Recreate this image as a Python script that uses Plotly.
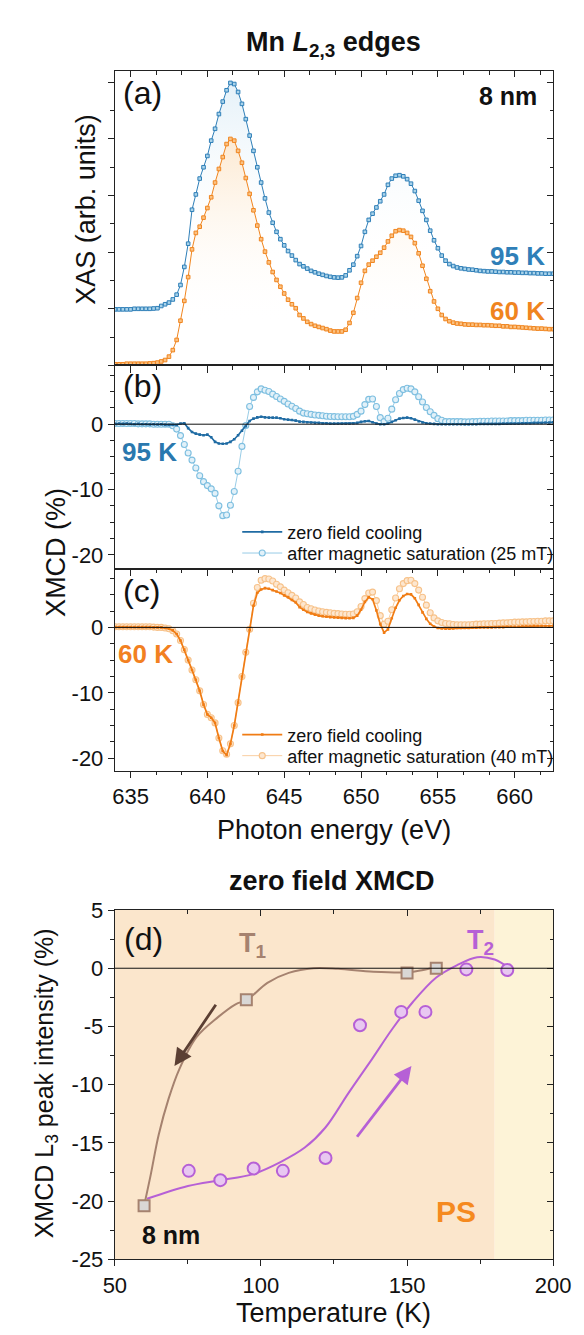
import plotly.graph_objects as go

W, H = 584, 1335
FONT = "Liberation Sans, Arial, sans-serif"

# ---------------- data ----------------
energy = [round(634.0 + 0.25 * i, 2) for i in range(115)]  # photon energy grid (eV)

xas_60K = [
    0.02, 0.02, 0.02, 0.03,
    0.03, 0.03, 0.03, 0.03,
    0.03, 0.035, 0.04, 0.05,
    0.07, 0.095, 0.155, 0.27,
    0.45, 0.79, 1.14, 1.56,
    2.05, 2.34, 2.45, 2.61,
    2.78, 2.97, 3.23, 3.47,
    3.68, 3.91, 4.00, 3.97,
    3.79, 3.58, 3.31, 3.03,
    2.74, 2.47, 2.23, 2.01,
    1.82, 1.65, 1.51, 1.39,
    1.27, 1.16, 1.08, 1.01,
    0.89, 0.83, 0.77, 0.73,
    0.70, 0.68, 0.66, 0.64,
    0.615, 0.60, 0.60, 0.60,
    0.63, 0.75, 0.93, 1.19,
    1.46, 1.67, 1.78, 1.85,
    1.92, 1.99, 2.08, 2.19,
    2.29, 2.37, 2.39, 2.38,
    2.34, 2.27, 2.16, 1.98,
    1.76, 1.53, 1.31, 1.13,
    1.00, 0.89, 0.82, 0.78,
    0.755, 0.74, 0.735, 0.725,
    0.72, 0.72, 0.715, 0.715,
    0.71, 0.71, 0.705, 0.70,
    0.70, 0.69, 0.69, 0.68,
    0.68, 0.675, 0.67, 0.665,
    0.66, 0.655, 0.65, 0.65,
    0.645, 0.64, 0.64,
]

xas_95K = [
    0.99, 0.99, 0.99, 0.99,
    0.99, 1.00, 1.00, 1.00,
    1.00, 1.00, 1.005, 1.01,
    1.05, 1.08, 1.11, 1.165,
    1.25, 1.42, 1.74, 2.15,
    2.75, 3.02, 3.30, 3.50,
    3.70, 3.97, 4.18, 4.44,
    4.66, 4.86, 4.99, 4.97,
    4.83, 4.62, 4.35, 4.06,
    3.79, 3.50, 3.23, 2.95,
    2.70, 2.52, 2.36, 2.23,
    2.12, 2.02, 1.94, 1.86,
    1.79, 1.75, 1.71, 1.67,
    1.645, 1.62, 1.60, 1.58,
    1.565, 1.555, 1.55, 1.555,
    1.59, 1.68, 1.78, 1.93,
    2.11, 2.36, 2.57, 2.68,
    2.79, 2.90, 3.02, 3.19,
    3.30, 3.35, 3.36, 3.34,
    3.29, 3.21, 3.08, 2.91,
    2.73, 2.57, 2.38, 2.21,
    2.07, 1.94, 1.85, 1.79,
    1.755, 1.73, 1.715, 1.705,
    1.695, 1.69, 1.68, 1.67,
    1.665, 1.66, 1.66, 1.655,
    1.65, 1.65, 1.645, 1.645,
    1.64, 1.64, 1.635, 1.635,
    1.63, 1.63, 1.625, 1.625,
    1.62, 1.62, 1.62,
]

xmcd_95K_zfc = [
    0.05, 0.1, 0.05, 0.1,
    0.05, 0.0, 0.05, 0.0,
    0.0, -0.05, 0.0, -0.05,
    0.0, -0.1, -0.1, -0.1,
    -0.1, 0.1, 0.15, -0.6,
    -1.2, -1.45, -1.6, -1.7,
    -1.6, -2.0, -2.7, -2.95,
    -3.0, -2.95, -2.7, -2.3,
    -1.7, -1.0, -0.3, 0.5,
    0.85, 1.05, 1.15, 1.05,
    1.0, 1.0, 1.0, 0.9,
    0.75, 0.7, 0.65, 0.55,
    0.4, 0.35, 0.3, 0.25,
    0.2, 0.2, 0.15, 0.15,
    0.1, 0.1, 0.1, 0.1,
    0.1, 0.1, 0.15, 0.2,
    0.35, 0.45, 0.5, 0.3,
    0.1, 0.0, 0.0, 0.1,
    0.35, 0.6, 0.85, 0.95,
    1.0, 0.9, 0.7, 0.45,
    0.25, 0.15, 0.1, 0.05,
    0.0, 0.0, 0.0, 0.0,
    0.0, 0.0, 0.0, 0.0,
    0.0, 0.0, 0.0, 0.05,
    0.05, 0.05, 0.05, 0.05,
    0.05, 0.1, 0.1, 0.1,
    0.1, 0.1, 0.15, 0.15,
    0.15, 0.2, 0.2, 0.2,
    0.25, 0.25, 0.3,
]

xmcd_95K_sat = [
    0.1, 0.1, 0.1, 0.1,
    0.1, 0.1, 0.05, 0.05,
    0.05, 0.05, 0.0, 0.0,
    0.0, 0.0, 0.0, -0.25,
    -0.75, -1.75, -3.1, -4.4,
    -5.5, -6.7, -7.9, -8.8,
    -9.4, -9.9, -10.6, -12.5,
    -14.0, -13.9, -12.4, -10.3,
    -7.2, -3.4, -0.2, 2.7,
    4.1, 4.95, 5.4, 5.2,
    5.0, 4.6, 4.25, 3.85,
    3.5, 3.1, 2.75, 2.4,
    2.0, 1.7, 1.6, 1.5,
    1.4, 1.35, 1.3, 1.22,
    1.18, 1.16, 1.15, 1.15,
    1.15, 1.15, 1.2, 1.5,
    2.0, 3.0, 3.8, 3.85,
    2.7, 1.0, 0.4, 0.9,
    2.3, 3.75, 4.7, 5.3,
    5.5, 5.4, 4.95, 4.2,
    3.4, 2.55, 1.9, 1.35,
    0.85, 0.6, 0.4, 0.4,
    0.4, 0.4, 0.4, 0.35,
    0.35, 0.4, 0.4, 0.45,
    0.45, 0.45, 0.5, 0.5,
    0.5, 0.5, 0.5, 0.55,
    0.55, 0.55, 0.55, 0.6,
    0.6, 0.6, 0.6, 0.6,
    0.65, 0.65, 0.65,
]

xmcd_60K_zfc = [
    0.05, 0.05, 0.05, 0.05,
    0.05, 0.05, 0.05, 0.05,
    0.05, 0.05, 0.0, 0.0,
    0.0, -0.1, -0.2, -0.45,
    -1.0, -2.0, -3.4, -5.0,
    -6.5, -8.0, -9.7, -11.8,
    -13.3, -13.8, -14.6, -16.9,
    -18.9, -19.5, -17.8, -15.0,
    -11.5, -7.5, -3.8, -0.4,
    3.3, 5.3, 5.8, 6.0,
    5.9, 5.7, 5.5, 5.25,
    4.9, 4.6, 4.2, 3.8,
    3.1, 2.7, 2.35, 2.15,
    1.95, 1.8, 1.7, 1.62,
    1.57, 1.53, 1.5, 1.45,
    1.42, 1.4, 1.45, 1.8,
    2.7, 3.9, 4.6, 4.3,
    2.6, 0.5, -0.8, -0.3,
    1.4, 3.0, 4.15, 4.8,
    5.1, 5.05, 4.45, 3.45,
    2.3, 1.3, 0.55, 0.15,
    -0.1, -0.15, -0.2, -0.2,
    -0.15, -0.1, -0.1, -0.1,
    -0.1, -0.05, -0.05, 0.0,
    0.0, 0.0, 0.0, 0.05,
    0.05, 0.05, 0.1, 0.1,
    0.1, 0.1, 0.15, 0.15,
    0.15, 0.2, 0.2, 0.2,
    0.2, 0.2, 0.25,
]

xmcd_60K_sat = [
    0.1, 0.1, 0.1, 0.1,
    0.1, 0.1, 0.1, 0.1,
    0.1, 0.1, 0.05, 0.0,
    0.0, -0.1, -0.2, -0.5,
    -1.0, -2.0, -3.4, -5.0,
    -6.5, -8.0, -9.7, -11.8,
    -13.3, -13.8, -14.6, -16.9,
    -18.85, -19.4, -17.8, -15.0,
    -11.5, -7.5, -3.8, -0.3,
    3.7, 6.1, 7.2, 7.45,
    7.4, 7.1, 6.6, 6.2,
    5.7, 5.3, 4.9, 4.5,
    3.9, 3.5, 3.05, 2.85,
    2.65, 2.5, 2.4, 2.3,
    2.25, 2.15, 2.1, 2.05,
    2.0, 2.0, 2.05, 2.4,
    3.2, 4.4, 5.25, 5.4,
    4.1, 1.8, 0.5, 0.95,
    2.7, 4.5, 5.9, 6.7,
    7.15, 7.2, 6.7, 5.7,
    4.6, 3.4, 2.25, 1.45,
    1.0, 0.75, 0.6, 0.55,
    0.45, 0.4, 0.4, 0.4,
    0.4, 0.45, 0.5, 0.5,
    0.55, 0.55, 0.6, 0.6,
    0.65, 0.7, 0.7, 0.75,
    0.8, 0.8, 0.85, 0.85,
    0.9, 0.9, 0.95, 0.95,
    1.0, 1.0, 1.0,
]

# panel (d): zero-field XMCD L3 peak intensity vs temperature
T1_temp = [60, 95, 150, 160]
T1_xmcd = [-20.4, -2.7, -0.4, 0.0]
T1_guide_temp = [60, 62.3, 65, 68.4, 72, 78, 85.3, 91.3, 95.3, 102.2, 109.5, 118, 126.4, 138.5, 150.3, 155.5, 160.1]
T1_guide_xmcd = [-20.4, -17.7, -14.3, -11.2, -8.7, -5.9, -4.2, -3.1, -2.7, -1.25, -0.4, 0.0, -0.05, -0.3, -0.35, -0.15, 0.1]

T2_temp = [75.3, 86.1, 97.5, 107.5, 122.1, 133.9, 148.0, 156.3, 170.3, 184.3]
T2_xmcd = [-17.4, -18.2, -17.2, -17.4, -16.3, -4.9, -3.75, -3.75, -0.1, -0.15]
T2_guide_temp = [61, 75, 86, 97, 107, 115, 122, 130, 138, 145, 152, 160, 167, 174, 180, 185]
T2_guide_xmcd = [-19.8, -18.7, -18.2, -17.7, -16.6, -15.4, -13.7, -10.7, -7.8, -5.2, -2.9, -0.8, 0.25,
                 0.95, 0.75, 0.0]

ps_onset = 180  # K, start of the PS region

xmcd_tickvals = [-20, -10, 0]
xmcd_ticktext = ["-20", "-10", "0"]
d_tickvals = [-25, -20, -15, -10, -5, 0, 5]
d_ticktext = ["-25", "-20", "-15", "-10", "-5", "0", "5"]

# ---------------- styling ----------------
C95 = "#2f7fb8"
C95_FILL = "#a9d3ea"
C60 = "#f0851f"
C60_FILL = "#fbc283"
C95_ZFC = "#1f6ba3"
C95_SAT = "#7ebfe0"
C95_SAT_FILL = "#e2f1f9"
C60_ZFC = "#f07c14"
C60_SAT = "#f7c28a"
C60_SAT_FILL = "#fde7d0"
BROWN = "#a5826f"
VIOLET = "#b660d6"
AX = "#222222"


def px(x):
    return x / W


def py(y):
    return 1 - y / H


XDOM = [px(100), px(562)]
DOM_A = [py(352), py(52)]
DOM_B = [py(559), py(352)]
DOM_C = [py(765), py(559)]
DOM_D = [py(1263), py(907)]

fig = go.Figure()

# ---- (a) XAS ----
fig.add_trace(go.Scatter(
    x=energy, y=xas_60K, xaxis="x", yaxis="y", mode="lines+markers",
    line=dict(color=C60, width=1),
    marker=dict(symbol="square", size=3.6, color=C60_FILL, line=dict(color=C60, width=1)),
    fill="tozeroy",
    fillgradient=dict(type="vertical", start=0.8, stop=4.0,
                      colorscale=[[0, "rgba(255,255,255,0)"], [1, "rgba(250,212,165,0.5)"]]),
    showlegend=False, hoverinfo="skip"))
fig.add_trace(go.Scatter(
    x=energy, y=xas_95K, xaxis="x", yaxis="y", mode="lines+markers",
    line=dict(color=C95, width=1),
    marker=dict(symbol="square", size=3.6, color=C95_FILL, line=dict(color=C95, width=1)),
    fill="tonexty",
    fillgradient=dict(type="vertical", start=1.8, stop=5.0,
                      colorscale=[[0, "rgba(255,255,255,0)"], [1, "rgba(208,230,243,0.55)"]]),
    showlegend=False, hoverinfo="skip"))

# ---- (b) XMCD 95 K ----
fig.add_trace(go.Scatter(
    x=energy, y=xmcd_95K_sat, xaxis="x2", yaxis="y2", mode="lines+markers",
    name="after magnetic saturation (25 mT)", legend="legend2",
    line=dict(color=C95_SAT, width=0.8),
    marker=dict(symbol="circle", size=6, color=C95_SAT_FILL, line=dict(color=C95_SAT, width=1.1)),
    hoverinfo="skip"))
fig.add_trace(go.Scatter(
    x=energy, y=xmcd_95K_zfc, xaxis="x2", yaxis="y2", mode="lines+markers",
    name="zero field cooling", legend="legend",
    line=dict(color=C95_ZFC, width=1.6),
    marker=dict(symbol="square", size=2.6, color=C95_ZFC),
    hoverinfo="skip"))

# ---- (c) XMCD 60 K ----
fig.add_trace(go.Scatter(
    x=energy, y=xmcd_60K_sat, xaxis="x3", yaxis="y3", mode="lines+markers",
    name="after magnetic saturation (40 mT)", legend="legend4",
    line=dict(color=C60_SAT, width=0.8),
    marker=dict(symbol="circle", size=6, color=C60_SAT_FILL, line=dict(color=C60_SAT, width=1.1)),
    hoverinfo="skip"))
fig.add_trace(go.Scatter(
    x=energy, y=xmcd_60K_zfc, xaxis="x3", yaxis="y3", mode="lines+markers",
    name="zero field cooling", legend="legend3",
    line=dict(color=C60_ZFC, width=1.7),
    marker=dict(symbol="square", size=2.6, color=C60_ZFC),
    hoverinfo="skip"))

# ---- (d) temperature dependence ----
fig.add_trace(go.Scatter(
    x=T2_guide_temp, y=T2_guide_xmcd, xaxis="x4", yaxis="y4", mode="lines",
    line=dict(color=VIOLET, width=2, shape="spline", smoothing=1.0),
    showlegend=False, hoverinfo="skip"))
fig.add_trace(go.Scatter(
    x=T1_guide_temp, y=T1_guide_xmcd, xaxis="x4", yaxis="y4", mode="lines",
    line=dict(color=BROWN, width=2, shape="spline", smoothing=1.0),
    showlegend=False, hoverinfo="skip"))
fig.add_trace(go.Scatter(
    x=T2_temp, y=T2_xmcd, xaxis="x4", yaxis="y4", mode="markers",
    marker=dict(symbol="circle", size=12, color="#e8c7f1", line=dict(color=VIOLET, width=2)),
    showlegend=False, hoverinfo="skip"))
fig.add_trace(go.Scatter(
    x=T1_temp, y=T1_xmcd, xaxis="x4", yaxis="y4", mode="markers",
    marker=dict(symbol="square", size=11, color="#d9d7d5", line=dict(color=BROWN, width=2)),
    showlegend=False, hoverinfo="skip"))

# dummy traces for the mirrored (inside-tick) axes
for k in range(5, 9):
    fig.add_trace(go.Scatter(x=[None], y=[None], xaxis=f"x{k}", yaxis=f"y{k}",
                             showlegend=False, hoverinfo="skip"))

# ---------------- axes ----------------
base = dict(showline=True, linecolor=AX, linewidth=1.2, mirror=True, ticks="outside",
            ticklen=6, tickwidth=1.1, tickcolor=AX, showgrid=False, zeroline=False,
            tickfont=dict(family=FONT, size=22, color="#111"))


def minor(dtick, tick0, side="outside"):
    return dict(ticks=side, ticklen=3.5, tickwidth=1, tickcolor=AX, dtick=dtick, tick0=tick0)


ERANGE = [633.98, 662.5]
AR = [0, 5.2]
BR = [-22.1, 9.0]
CR = [-21.9, 9.0]
DXR = [50, 200]
DYR = [-25, 5]

ex = dict(range=ERANGE, tick0=635, dtick=5, minor=minor(5 / 3, 635))
layout_axes = dict(
    xaxis=dict(base, domain=XDOM, anchor="y", showticklabels=False, **ex),
    yaxis=dict(base, domain=DOM_A, anchor="x", range=AR, tick0=0, dtick=1,
               showticklabels=False, minor=minor(0.5, 0)),
    xaxis2=dict(base, domain=XDOM, anchor="y2", showticklabels=False, **ex),
    yaxis2=dict(base, domain=DOM_B, anchor="x2", range=BR, tickmode="array",
                tickvals=xmcd_tickvals, ticktext=xmcd_ticktext, minor=minor(2.5, 0)),
    xaxis3=dict(base, domain=XDOM, anchor="y3", showticklabels=True, **ex),
    yaxis3=dict(base, domain=DOM_C, anchor="x3", range=CR, tickmode="array",
                tickvals=xmcd_tickvals, ticktext=xmcd_ticktext, minor=minor(2.5, 0)),
    xaxis4=dict(base, domain=XDOM, anchor="y4", range=DXR, tick0=50, dtick=50,
                minor=minor(25, 50)),
    yaxis4=dict(base, domain=DOM_D, anchor="x4", range=DYR, tickmode="array",
                tickvals=d_tickvals, ticktext=d_ticktext, minor=minor(2.5, 0)),
)

overlay_specs = [
    (5, "x", "y", ERANGE, 635, 5, 5 / 3, AR, 0, 1, 0.5),
    (6, "x2", "y2", ERANGE, 635, 5, 5 / 3, BR, 0, 10, 2.5),
    (7, "x3", "y3", ERANGE, 635, 5, 5 / 3, CR, 0, 10, 2.5),
    (8, "x4", "y4", DXR, 50, 50, 25, DYR, 0, 5, 2.5),
]
inside = dict(ticks="inside", ticklen=6, tickwidth=1.1, tickcolor=AX, showticklabels=False,
              showline=False, showgrid=False, zeroline=False)
for k, bx, by, xr, xt0, xdt, xmin, yr, yt0, ydt, ymin in overlay_specs:
    layout_axes[f"xaxis{k}"] = dict(inside, overlaying=bx, side="top", anchor=f"y{k}",
                                    range=xr, tick0=xt0, dtick=xdt,
                                    minor=minor(xmin, xt0, "inside"))
    layout_axes[f"yaxis{k}"] = dict(inside, overlaying=by, side="right", anchor=f"x{k}",
                                    range=yr, tick0=yt0, dtick=ydt,
                                    minor=minor(ymin, yt0, "inside"))

# ---------------- shapes ----------------
shapes = [
    dict(type="rect", xref="x4", yref="y4 domain", x0=DXR[0], x1=ps_onset, y0=0, y1=1,
         fillcolor="#fbe6cc", line=dict(width=0), layer="below"),
    dict(type="rect", xref="x4", yref="y4 domain", x0=ps_onset, x1=DXR[1], y0=0, y1=1,
         fillcolor="#fdf3d7", line=dict(width=0), layer="below"),
]
for xr_, yr_ in (("x2", "y2"), ("x3", "y3"), ("x4", "y4")):
    shapes.append(dict(type="line", xref=f"{xr_} domain", yref=yr_, x0=0, x1=1, y0=0, y1=0,
                       line=dict(color="#111", width=1)))

# ---------------- annotations ----------------
ann = []


def label(x, y, s, size, color="#111", angle=0):
    ann.append(dict(x=px(x), y=py(y), xref="paper", yref="paper", text=s, showarrow=False,
                    xanchor="center", yanchor="middle", textangle=angle,
                    font=dict(family=FONT, size=size, color=color)))


label(331, 24, "<b>Mn <i>L</i><sub>2,3</sub> edges</b>", 27)
label(129, 74, "(a)", 32)
label(514, 77, "<b>8 nm</b>", 25)
label(524, 241, "<b>95 K</b>", 26, C95)
label(524, 297, "<b>60 K</b>", 26, C60)
label(70, 193, "XAS (arb. units)", 27, angle=-90)

label(129, 373, "(b)", 32)
label(136, 440, "<b>95 K</b>", 26, "#2a78ae")
label(128, 582, "(c)", 32)
label(132, 646, "<b>60 K</b>", 26, "#f28021")
label(38, 543, "XMCD (%)", 27, angle=-90)
label(331, 825, "Photon energy (eV)", 27)

label(329, 877, "<b>zero field XMCD</b>", 27)
label(130, 937, "(d)", 32)
label(245, 943, "<b>T<sub>1</sub></b>", 27, BROWN)
label(485, 940, "<b>T<sub>2</sub></b>", 27, VIOLET)
label(159, 1238, "<b>8 nm</b>", 25)
label(460, 1214, "<b>PS</b>", 30, "#f58a1f")
label(27, 1084, "XMCD L<sub>3</sub> peak intensity (%)", 25, angle=-90)
label(331, 1318, "Temperature (K)", 27)

# arrows in panel (d)
ann.append(dict(x=70.4, y=-8.4, ax=84.9, ay=-3.0, xref="x4", yref="y4", axref="x4", ayref="y4",
                text="", showarrow=True, arrowhead=2, arrowsize=1.25, arrowwidth=2.8,
                arrowcolor="#5b3f33"))
ann.append(dict(x=151.5, y=-8.4, ax=132.5, ay=-14.6, xref="x4", yref="y4", axref="x4", ayref="y4",
                text="", showarrow=True, arrowhead=2, arrowsize=1.25, arrowwidth=2.8,
                arrowcolor=VIOLET))


def one_legend(ycenter):
    return dict(x=px(229), y=py(ycenter), xanchor="left", yanchor="middle",
                bgcolor="rgba(0,0,0,0)", borderwidth=0,
                font=dict(family=FONT, size=18, color="#111"), itemwidth=40)


fig.update_layout(
    width=W, height=H, margin=dict(l=0, r=0, t=0, b=0),
    paper_bgcolor="white", plot_bgcolor="rgba(0,0,0,0)",
    font=dict(family=FONT, color="#111"),
    showlegend=True,
    legend=one_legend(522),
    legend2=one_legend(543.5),
    legend3=one_legend(728.5),
    legend4=one_legend(750),
    shapes=shapes, annotations=ann, hovermode=False,
    **layout_axes,
)

fig.write_html("out.html")
